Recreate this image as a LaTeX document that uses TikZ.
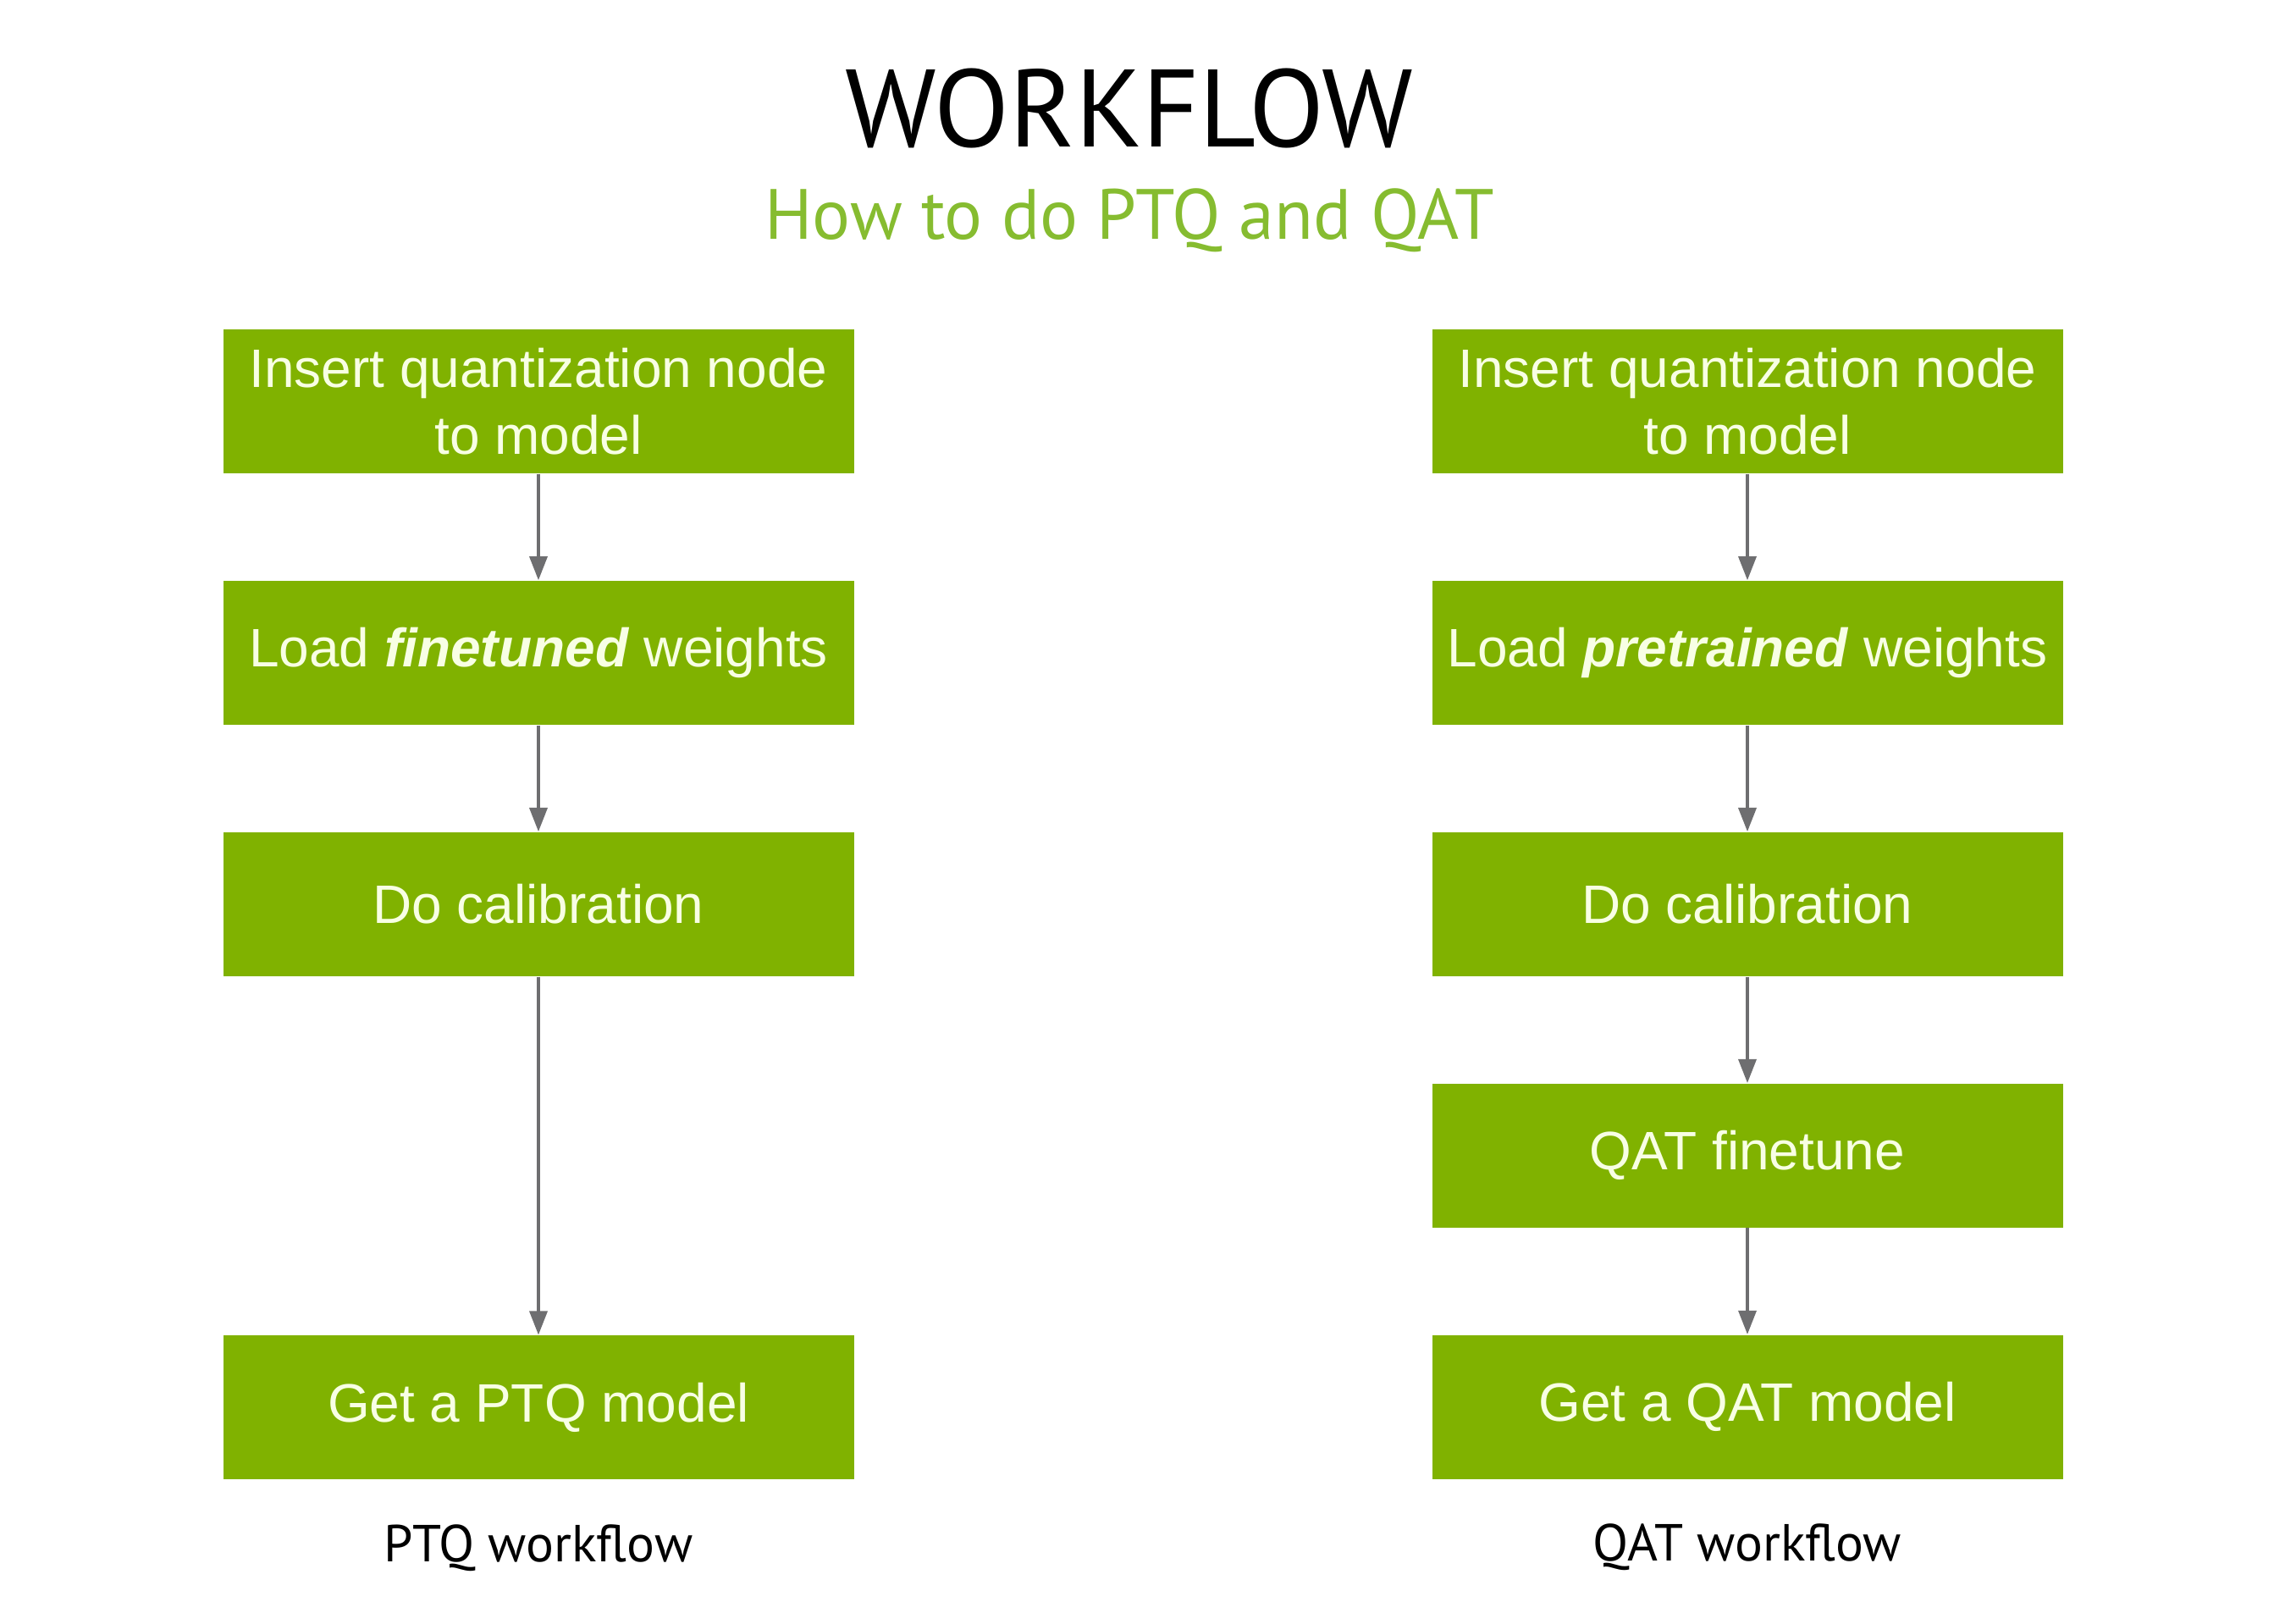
\documentclass[tikz,border=0pt]{standalone}
\usepackage{fontspec}
\setmainfont{Liberation Sans}
\newfontfamily\titlefont{PT Sans}
\usepackage{tikz}
\usetikzlibrary{arrows.meta, positioning}
\definecolor{nvgreen}{RGB}{128,178,0}
\definecolor{subgreen}{RGB}{134,188,48}
\definecolor{boxtext}{RGB}{248,255,228}
\definecolor{arrowgray}{RGB}{110,110,112}
\tikzset{
  stepbox/.style={
    rectangle, minimum width=7.45cm, minimum height=1.70cm,
    fill=nvgreen, draw=none, text=boxtext, align=center,
    font=\fontsize{18.2}{22.4}\selectfont
  },
  caption/.style={font=\titlefont\fontsize{17.5}{20}\selectfont, text=black},
  arrow/.style={-{Triangle[length=8pt, width=6pt]}, line width=0.95pt, color=arrowgray}
}
\begin{document}
\begin{tikzpicture}[node distance=1.255cm]
  \useasboundingbox (0,0) rectangle (27.12,19.04);

  \node[font=\titlefont\fontsize{37}{40}\selectfont] (title) at (13.34,17.76) {WORKFLOW};
  \node[font=\titlefont\fontsize{23.9}{28}\selectfont, text=subgreen] (subtitle) at (13.34,16.44)
    {How to do PTQ and QAT};

  % PTQ column
  \node[stepbox] (ptq_insert) at (6.36,14.30) {Insert quantization node\\to model};
  \node[stepbox, below=of ptq_insert] (ptq_load)
    {Load \textbf{\textit{finetuned}} weights};
  \node[stepbox, below=of ptq_load] (ptq_calib) {Do calibration};
  \node[stepbox, below=4.23cm of ptq_calib] (ptq_get) {Get a PTQ model};
  \node[caption, below=0.40cm of ptq_get] (ptq_label) {PTQ workflow};

  % QAT column
  \node[stepbox] (qat_insert) at (20.64,14.30) {Insert quantization node\\to model};
  \node[stepbox, below=of qat_insert] (qat_load)
    {Load \textbf{\textit{pretrained}} weights};
  \node[stepbox, below=of qat_load] (qat_calib) {Do calibration};
  \node[stepbox, below=of qat_calib] (qat_finetune) {QAT finetune};
  \node[stepbox, below=of qat_finetune] (qat_get) {Get a QAT model};
  \node[caption, below=0.40cm of qat_get] (qat_label) {QAT workflow};

  \draw[arrow] (ptq_insert) -- (ptq_load);
  \draw[arrow] (ptq_load) -- (ptq_calib);
  \draw[arrow] (ptq_calib) -- (ptq_get);
  \draw[arrow] (qat_insert) -- (qat_load);
  \draw[arrow] (qat_load) -- (qat_calib);
  \draw[arrow] (qat_calib) -- (qat_finetune);
  \draw[arrow] (qat_finetune) -- (qat_get);
\end{tikzpicture}
\end{document}
